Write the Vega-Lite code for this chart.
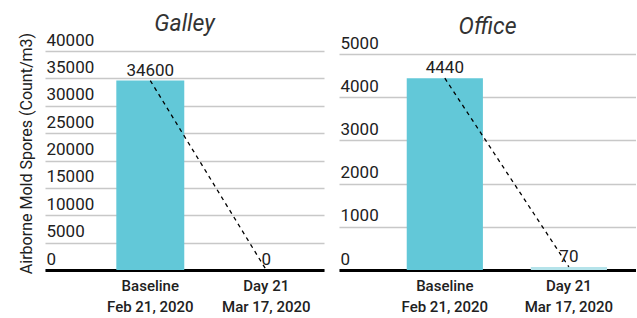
{
  "$schema": "https://vega.github.io/schema/vega-lite/v6.json",
  "padding": {"left": 17, "top": 13, "right": 0, "bottom": 0},
  "background": "white",
  "config": {
    "view": {"stroke": null},
    "font": "Roboto",
    "title": {"font": "Roboto", "fontSize": 23, "fontStyle": "italic", "fontWeight": "normal", "color": "#333333", "offset": -5},
    "axis": {"labelFont": "Roboto", "titleFont": "Roboto", "labelColor": "#212121", "titleColor": "#212121"}
  },
  "data": {"values": [
    {"room": "Galley", "period": "Baseline|Feb 21, 2020", "spores": 34600},
    {"room": "Galley", "period": "Day 21|Mar 17, 2020", "spores": 0},
    {"room": "Office", "period": "Baseline|Feb 21, 2020", "spores": 4440},
    {"room": "Office", "period": "Day 21|Mar 17, 2020", "spores": 70}
  ]},
  "spacing": 15,
  "hconcat": [
    {
      "title": "Galley",
      "width": 279,
      "height": 219,
      "transform": [{"filter": "datum.room === 'Galley'"}],
      "encoding": {
        "x": {"field": "period", "type": "nominal", "sort": null,
          "scale": {"paddingInner": 0.414, "paddingOuter": 0.41, "align": 0.75},
          "axis": {"title": null, "labelAngle": 0, "labelExpr": "split(datum.label, '|')", "labelFontSize": 15, "labelFontWeight": 500, "labelLineHeight": 21, "labelPadding": 8, "ticks": false, "domainColor": "#000000", "domainWidth": 3, "grid": false}},
        "y": {"field": "spores", "type": "quantitative",
          "scale": {"domain": [0, 40000]},
          "axis": {"title": "Airborne Mold Spores (Count/m3)", "values": [0, 5000, 10000, 15000, 20000, 25000, 30000, 35000, 40000], "format": "d",
            "labelAlign": "left", "labelBaseline": "alphabetic", "labelOffset": -6, "labelPadding": -1, "ticks": false, "tickSize": 0, "domain": false,
            "gridColor": "#c8c8c8", "gridWidth": 1.5, "labelFontSize": 17,
            "titleFontSize": 16, "titleFontWeight": "normal", "titleX": -14, "titleY": 102, "titleAngle": -90, "titleBaseline": "alphabetic", "titleAlign": "center"}}
      },
      "layer": [
        {"mark": {"type": "bar"}, "encoding": {"color": {"condition": {"test": "datum.spores < 100", "value": "#b5e3ea"}, "value": "#62c8d8"}}},
        {"mark": {"type": "line", "color": "#000000", "strokeDash": [4, 4], "strokeWidth": 1.3}},
        {"mark": {"type": "text", "fontSize": 17, "dy": -5, "baseline": "alphabetic", "color": "#212121"}, "encoding": {"text": {"field": "spores", "type": "quantitative", "format": "d"}}}
      ]
    },
    {
      "title": "Office",
      "width": 297,
      "height": 219,
      "transform": [{"filter": "datum.room === 'Office'"}],
      "encoding": {
        "x": {"field": "period", "type": "nominal", "sort": null,
          "scale": {"paddingInner": 0.386, "paddingOuter": 0.39, "align": 0.7},
          "axis": {"title": null, "labelAngle": 0, "labelExpr": "split(datum.label, '|')", "labelFontSize": 15, "labelFontWeight": 500, "labelLineHeight": 21, "labelPadding": 8, "ticks": false, "domainColor": "#000000", "domainWidth": 3, "grid": false}},
        "y": {"field": "spores", "type": "quantitative",
          "scale": {"domain": [0, 5070]},
          "axis": {"title": null, "values": [0, 1000, 2000, 3000, 4000, 5000], "format": "d",
            "labelAlign": "left", "labelBaseline": "alphabetic", "labelOffset": -6, "labelPadding": -1, "ticks": false, "tickSize": 0, "domain": false,
            "gridColor": "#c8c8c8", "gridWidth": 1.5, "labelFontSize": 17}}
      },
      "layer": [
        {"mark": {"type": "bar"}, "encoding": {"color": {"condition": {"test": "datum.spores < 100", "value": "#b5e3ea"}, "value": "#62c8d8"}}},
        {"mark": {"type": "line", "color": "#000000", "strokeDash": [4, 4], "strokeWidth": 1.3}},
        {"mark": {"type": "text", "fontSize": 17, "dy": -5, "baseline": "alphabetic", "color": "#212121"}, "encoding": {"text": {"field": "spores", "type": "quantitative", "format": "d"}}}
      ]
    }
  ]
}
